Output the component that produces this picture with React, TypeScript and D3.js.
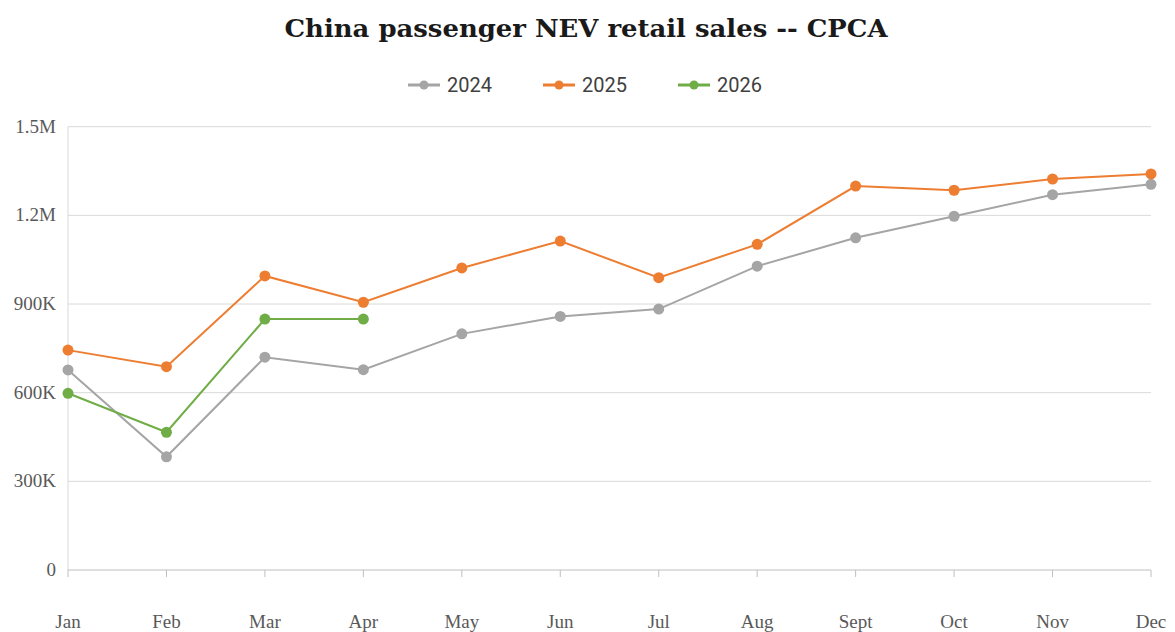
import React from "react";
import * as d3 from "d3";

const months = ["Jan", "Feb", "Mar", "Apr", "May", "Jun", "Jul", "Aug", "Sept", "Oct", "Nov", "Dec"];
const s2024 = [677000, 383000, 720000, 678000, 799000, 858000, 883000, 1028000, 1124000, 1197000, 1270000, 1305000];
const s2025 = [744000, 688000, 995000, 906000, 1022000, 1113000, 989000, 1102000, 1299000, 1285000, 1323000, 1340000];
const s2026 = [598000, 466000, 849000, 849000];
const yTicks = [0, 300000, 600000, 900000, 1200000, 1500000];
const yTickLabels = ["0", "300K", "600K", "900K", "1.2M", "1.5M"];
const seriesNames = ["2024", "2025", "2026"];
const colors = ["#a5a5a5", "#ed7d31", "#70ad47"];

export default function App() {
  const W = 1175, H = 632;
  const left = 68, right = 1151, top = 126.7, bottom = 570;
  const x = d3.scalePoint<string>().domain(months).range([left, right]);
  const y = d3.scaleLinear().domain([0, 1500000]).range([bottom, top]);
  const series = [s2024, s2025, s2026];
  const line = d3.line<number>().x((_, i) => x(months[i]) as number).y((d) => y(d));
  const serif = "'Liberation Serif', 'DejaVu Serif', serif";
  const legendX = [408, 543, 678];
  return (
    <svg width={W} height={H} style={{ position: "absolute", left: 0, top: 0, background: "#fff" }}>
      <text x={586} y={37} textAnchor="middle" fontFamily="'DejaVu Serif', serif" fontWeight="bold" fontSize={24}
        fill="#1a1a1a" textLength={603} lengthAdjust="spacingAndGlyphs">
        China passenger NEV retail sales -- CPCA
      </text>
      {seriesNames.map((n, i) => (
        <g key={n}>
          <line x1={legendX[i]} x2={legendX[i] + 32} y1={85} y2={85} stroke={colors[i]} strokeWidth={3} />
          <circle cx={legendX[i] + 16} cy={85} r={4.5} fill={colors[i]} />
          <text x={legendX[i] + 39} y={92} fontFamily="Roboto, 'Noto Sans', sans-serif" fontSize={20} fill="#404040">
            {n}
          </text>
        </g>
      ))}
      {yTicks.map((t, i) => (
        <g key={t}>
          {t > 0 && <line x1={left} x2={right} y1={y(t)} y2={y(t)} stroke="#d9d9d9" strokeWidth={1} />}
          <text x={56} y={y(t) + 6} textAnchor="end" fontFamily={serif} fontSize={19} fill="#595959">
            {yTickLabels[i]}
          </text>
        </g>
      ))}
      <line x1={left} x2={left} y1={top} y2={bottom} stroke="#d9d9d9" strokeWidth={1} />
      <line x1={left} x2={right} y1={bottom} y2={bottom} stroke="#bfbfbf" strokeWidth={1} />
      {months.map((m) => (
        <g key={m}>
          <line x1={x(m)} x2={x(m)} y1={bottom} y2={bottom + 7} stroke="#bfbfbf" strokeWidth={1} />
          <text x={x(m)} y={628} textAnchor="middle" fontFamily={serif} fontSize={19} fill="#595959">
            {m}
          </text>
        </g>
      ))}
      {series.map((s, i) => (
        <g key={i}>
          <path d={line(s) || ""} fill="none" stroke={colors[i]} strokeWidth={2} />
          {s.map((v, j) => (
            <circle key={j} cx={x(months[j])} cy={y(v)} r={5.5} fill={colors[i]} />
          ))}
        </g>
      ))}
    </svg>
  );
}
